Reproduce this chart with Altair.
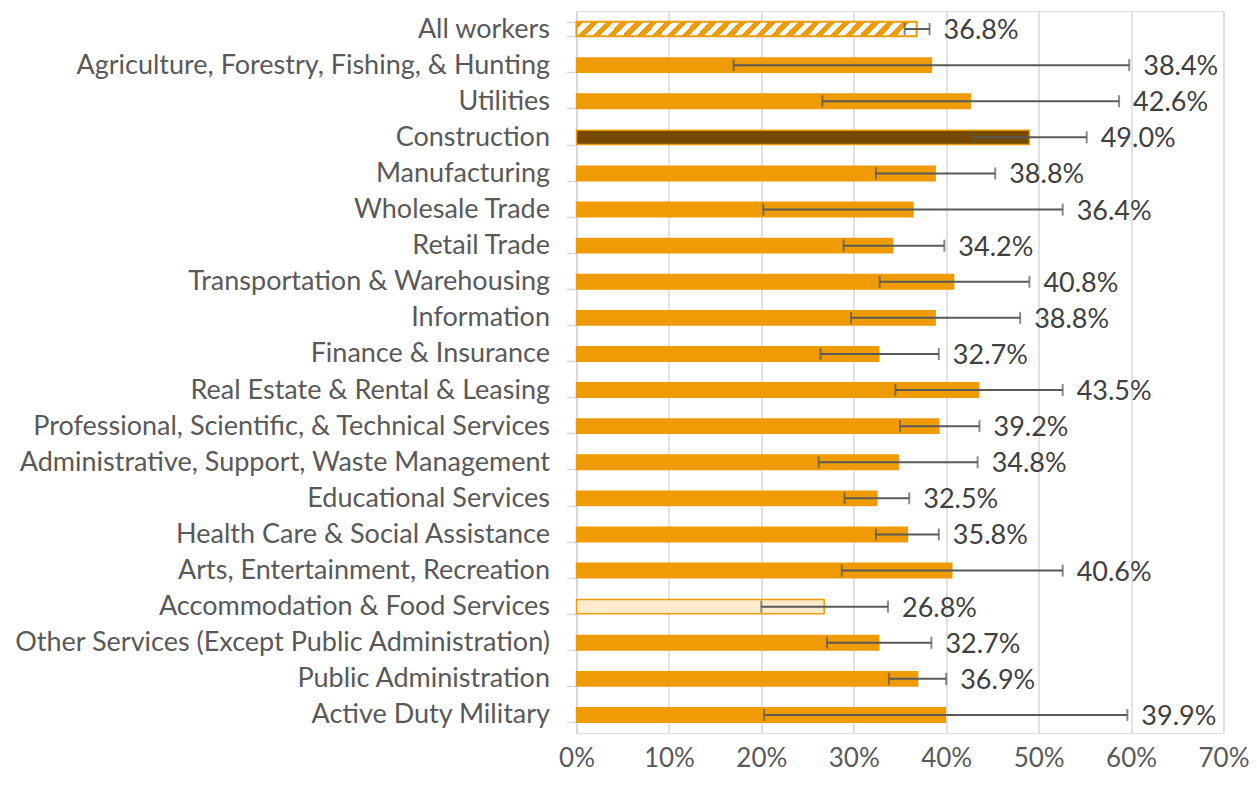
import altair as alt
import pandas as pd

categories = [
    "All workers",
    "Agriculture, Forestry, Fishing, & Hunting",
    "Utilities",
    "Construction",
    "Manufacturing",
    "Wholesale Trade",
    "Retail Trade",
    "Transportation & Warehousing",
    "Information",
    "Finance & Insurance",
    "Real Estate & Rental & Leasing",
    "Professional, Scientific, & Technical Services",
    "Administrative, Support, Waste Management",
    "Educational Services",
    "Health Care & Social Assistance",
    "Arts, Entertainment, Recreation",
    "Accommodation & Food Services",
    "Other Services (Except Public Administration)",
    "Public Administration",
    "Active Duty Military",
]
values = [36.8, 38.4, 42.6, 49.0, 38.8, 36.4, 34.2, 40.8, 38.8, 32.7,
          43.5, 39.2, 34.8, 32.5, 35.8, 40.6, 26.8, 32.7, 36.9, 39.9]
lows = [35.5, 17.0, 26.6, 43.0, 32.4, 20.2, 28.9, 32.8, 29.7, 26.4,
        34.5, 35.0, 26.2, 29.0, 32.4, 28.7, 20.0, 27.1, 33.8, 20.3]
highs = [38.2, 59.8, 58.7, 55.2, 45.3, 52.6, 39.8, 49.0, 48.0, 39.2,
         52.6, 43.6, 43.4, 36.0, 39.2, 52.6, 33.7, 38.4, 40.0, 59.6]
kinds = ["all", "normal", "normal", "dark", "normal", "normal", "normal", "normal",
         "normal", "normal", "normal", "normal", "normal", "normal", "normal",
         "normal", "light", "normal", "normal", "normal"]
x_ticks = [0, 0.1, 0.2, 0.3, 0.4, 0.5, 0.6, 0.7]

df = pd.DataFrame({
    "cat": categories,
    "value": [v / 100 for v in values],
    "lo": [v / 100 for v in lows],
    "hi": [v / 100 for v in highs],
    "kind": kinds,
    "label": [f"{v:.1f}%" for v in values],
})

FONT = "Lato"
FS = 27
ORANGE = "#EE9B05"
GRID = "#D9D9D9"
ERR = "#595959"

# diagonal hatch for the "All workers" bar
n_stripes = 23
stops = []
for k in range(n_stripes):
    a = k / n_stripes
    m = (k + 0.5) / n_stripes
    b = (k + 1) / n_stripes
    stops += [
        {"offset": a, "color": ORANGE},
        {"offset": m, "color": ORANGE},
        {"offset": m, "color": "#FFFFFF"},
        {"offset": b, "color": "#FFFFFF"},
    ]
hatch = {"gradient": "linear", "x1": 0, "y1": 0, "x2": 1, "y2": 0.041, "stops": stops}

y_enc = alt.Y(
    "cat:N",
    sort=categories,
    title=None,
    scale=alt.Scale(paddingInner=0.6, paddingOuter=0.3),
    axis=alt.Axis(
        labelFont=FONT,
        labelFontSize=FS,
        labelColor="#595959",
        labelLimit=1000,
        labelPadding=17,
        tickSize=10,
        tickColor=GRID,
        tickWidth=1.5,
        tickBand="extent",
        domainColor=GRID,
        domainWidth=1.5,
        grid=False,
    ),
)
x_enc = alt.X(
    "value:Q",
    scale=alt.Scale(domain=[0, 0.7], nice=False),
    title=None,
    axis=alt.Axis(
        values=x_ticks,
        format=".0%",
        grid=True,
        gridColor=GRID,
        gridWidth=1.5,
        domain=False,
        ticks=False,
        labelFlush=False,
        labelFont=FONT,
        labelFontSize=26,
        labelColor="#595959",
        labelPadding=25,
        labelBaseline="middle",
    ),
)

base = alt.Chart(df)

bars = base.transform_filter(alt.datum.kind != "all").mark_bar(
    stroke=ORANGE, strokeWidth=1.5
).encode(
    x=x_enc,
    y=y_enc,
    color=alt.Color(
        "kind:N",
        scale=alt.Scale(domain=["normal", "dark", "light"], range=[ORANGE, "#734A00", "#FDEBCC"]),
        legend=None,
    ),
)

hatched = base.transform_filter(alt.datum.kind == "all").mark_bar(
    fill=hatch, stroke=ORANGE, strokeWidth=2
).encode(x=x_enc, y=y_enc)

err = base.mark_rule(color=ERR, strokeWidth=2).encode(
    x="lo:Q", x2="hi:Q", y=alt.Y("cat:N", sort=categories)
)
cap_lo = base.mark_tick(color=ERR, thickness=2, size=12, orient="vertical").encode(
    x="lo:Q", y=alt.Y("cat:N", sort=categories)
)
cap_hi = base.mark_tick(color=ERR, thickness=2, size=12, orient="vertical").encode(
    x="hi:Q", y=alt.Y("cat:N", sort=categories)
)
labels = base.mark_text(
    align="left", baseline="middle", dx=14, dy=2, font=FONT, fontSize=FS, color="#404040"
).encode(x="hi:Q", y=alt.Y("cat:N", sort=categories), text="label:N")

chart = (
    alt.layer(bars, hatched, err, cap_lo, cap_hi, labels)
    .properties(
        width=647,
        height=722,
        autosize="none",
        padding={"left": 568.5, "top": 3, "right": 25, "bottom": 40},
    )
    .configure_view(strokeWidth=0)
    .configure(background="white")
)

chart.save("out.html", embed_options={"renderer": "svg", "actions": False})
